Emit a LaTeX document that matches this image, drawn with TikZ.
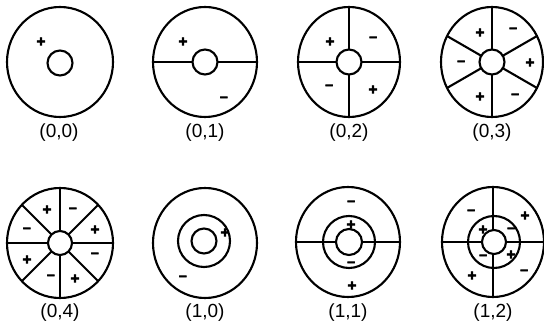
\documentclass[tikz,border=0pt]{standalone}
\usepackage{fontspec}
\setmainfont{Liberation Sans}
\newfontfamily\signfont[FakeBold=4]{Liberation Sans Bold}
\begin{document}
\begin{tikzpicture}[x=1pt,y=-1pt,
  ring/.style={line width=2.1pt},
  spoke/.style={line width=2.1pt},
  pl/.style={font=\signfont\fontsize{15}{15}\selectfont, inner sep=0pt},
  mi/.style={font=\signfont\fontsize{14}{14}\selectfont, inner sep=0pt},
  lbl/.style={font=\fontsize{19}{19}\selectfont, inner sep=0pt, anchor=north}]
\useasboundingbox (0,0) rectangle (544,334);

% ---------- (0,0)
\draw[ring] (60,62) ellipse [x radius=53pt, y radius=55pt];
\draw[ring] (60,63) circle [radius=12.5pt];
\node[pl] (a1) at (41,42) {+};
\node[lbl] (l00) at (59,124) {(0,0)};

% ---------- (0,1)
\begin{scope}
\clip (205,62) ellipse [x radius=52pt, y radius=55pt];
\draw[spoke] (140,62) -- (270,62);
\end{scope}
\draw[ring] (205,62) ellipse [x radius=52pt, y radius=55pt];
\draw[ring,fill=white] (205,62) circle [radius=12.5pt];
\node[pl] (b1) at (183,42) {+};
\node[mi] (b2) at (224,99) {–};
\node[lbl] (l01) at (205,124) {(0,1)};

% ---------- (0,2)
\begin{scope}
\clip (349,62) ellipse [x radius=51pt, y radius=55pt];
\draw[spoke] (280,62) -- (420,62);
\draw[spoke] (349,0) -- (349,130);
\end{scope}
\draw[ring] (349,62) ellipse [x radius=51pt, y radius=55pt];
\draw[ring,fill=white] (349,62) circle [radius=12.5pt];
\node[pl] (c1) at (330,42) {+};
\node[mi] (c2) at (373,39) {–};
\node[mi] (c3) at (329,87) {–};
\node[pl] (c4) at (373,90) {+};
\node[lbl] (l02) at (349,124) {(0,2)};

% ---------- (0,3)
\begin{scope}
\clip (492,62) ellipse [x radius=51pt, y radius=55pt];
\foreach \a in {30,90,...,330} \draw[spoke] (492,62) -- ++(\a:70pt);
\end{scope}
\draw[ring] (492,62) ellipse [x radius=51pt, y radius=55pt];
\draw[ring,fill=white] (492,62) circle [radius=12.5pt];
\node[pl] (d1) at (480,33) {+};
\node[mi] (d2) at (513,30) {–};
\node[mi] (d3) at (461,63) {–};
\node[pl] (d4) at (530,63) {+};
\node[pl] (d5) at (480,97) {+};
\node[mi] (d6) at (515,96) {–};
\node[lbl] (l03) at (492,124) {(0,3)};

% ---------- (0,4)
\begin{scope}
\clip (60,243) ellipse [x radius=53pt, y radius=55pt];
\foreach \a in {0,45,...,315} \draw[spoke] (60,243) -- ++(\a:70pt);
\end{scope}
\draw[ring] (60,243) ellipse [x radius=53pt, y radius=55pt];
\draw[ring,fill=white] (60,243) circle [radius=12pt];
\node[pl] (e1) at (47,210) {+};
\node[mi] (e2) at (73,210) {–};
\node[mi] (e3) at (27,230) {–};
\node[pl] (e4) at (95,230) {+};
\node[pl] (e5) at (27,260) {+};
\node[mi] (e6) at (95,255) {–};
\node[mi] (e7) at (51,277) {–};
\node[pl] (e8) at (75,279) {+};
\node[lbl] (l04) at (60,304) {(0,4)};

% ---------- (1,0)
\draw[ring] (205,243) ellipse [x radius=52pt, y radius=55pt];
\draw[ring] (204,241) circle [radius=26pt];
\draw[ring] (204,241) circle [radius=12.5pt];
\node[pl] (f1) at (225,233) {+};
\node[mi] (f2) at (183,278) {–};
\node[lbl] (l10) at (205,304) {(1,0)};

% ---------- (1,1)
\begin{scope}
\clip (348,242) ellipse [x radius=52pt, y radius=55pt];
\draw[spoke] (280,242) -- (420,242);
\end{scope}
\draw[ring] (348,242) ellipse [x radius=52pt, y radius=55pt];
\draw[ring] (349,242) circle [radius=26pt];
\draw[ring,fill=white] (349,242) circle [radius=13pt];
\node[mi] (g1) at (351,203) {–};
\node[pl] (g2) at (351,225) {+};
\node[mi] (g3) at (351,264) {–};
\node[pl] (g4) at (352,286) {+};
\node[lbl] (l11) at (348,304) {(1,1)};

% ---------- (1,2)
\begin{scope}
\clip (493,242) ellipse [x radius=51pt, y radius=55pt];
\draw[spoke] (430,242) -- (560,242);
\draw[spoke] (493,180) -- (493,310);
\end{scope}
\draw[ring] (493,242) ellipse [x radius=51pt, y radius=55pt];
\draw[ring] (494,242) circle [radius=26pt];
\draw[ring,fill=white] (494,242) circle [radius=12pt];
\node[mi] (h1) at (471,212) {–};
\node[pl] (h2) at (525,216) {+};
\node[pl] (h3) at (483,230) {+};
\node[mi] (h4) at (511,230) {–};
\node[mi] (h5) at (483,257) {–};
\node[pl] (h6) at (511,255) {+};
\node[pl] (h7) at (472,276) {+};
\node[mi] (h8) at (524,272) {–};
\node[lbl] (l12) at (493,304) {(1,2)};
\end{tikzpicture}
\end{document}
